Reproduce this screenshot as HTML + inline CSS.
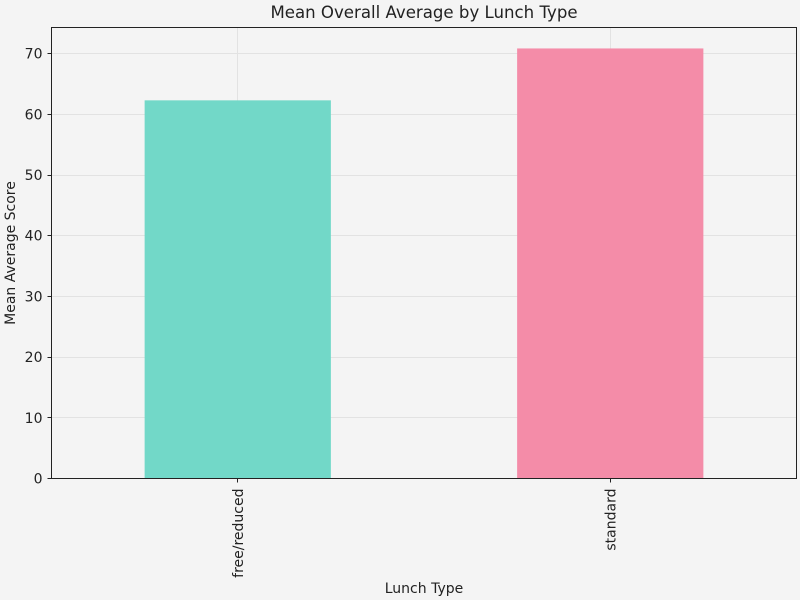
<!DOCTYPE html>
<html><head><meta charset="utf-8"><style>
body{margin:0;background:#f4f4f4;font-family:"DejaVu Sans","Liberation Sans",sans-serif}
</style></head><body>
<svg id="chart" width="800" height="600" xmlns="http://www.w3.org/2000/svg" style="display:block;font-family:'DejaVu Sans','Liberation Sans',sans-serif">
<rect width="800" height="600" fill="#f4f4f4"/>
<g id="plot"></g>
</svg>
<script>
const categories = ["free/reduced", "standard"];
const values = [62.3, 70.85];
const colors = ["#72d8c8", "#f48ca8"];
const yTicks = [0, 10, 20, 30, 40, 50, 60, 70];

const L = 51.5, R = 796.5, T = 27.5, B = 478.5;
const yMax = 74.3;
const y = v => B - v / yMax * (B - T);
const unit = (R - L) / categories.length;
const x = i => L + unit * (i + 0.5);
const NS = "http://www.w3.org/2000/svg";
const g = document.getElementById("plot");
function mk(tag, attrs, parent) {
  const e = document.createElementNS(NS, tag);
  for (const k in attrs) e.setAttribute(k, attrs[k]);
  (parent || g).appendChild(e);
  return e;
}
const snap = v => Math.round(v - 0.5) + 0.5;
yTicks.forEach(t => {
  const l = mk("line", {x1: L, x2: R, y1: snap(y(t)), y2: snap(y(t)), stroke: "#e2e2e2", "stroke-width": 1});
  
  
});
categories.forEach((c, i) => {
  const l = mk("line", {x1: snap(x(i)), x2: snap(x(i)), y1: T, y2: B, stroke: "#e2e2e2", "stroke-width": 1});
  
  
});
categories.forEach((c, i) => {
  const w = unit * 0.5;
  const r = mk("rect", {x: x(i) - w / 2, y: y(values[i]), width: w, height: B - y(values[i]), fill: colors[i]});
  
  
});
const fr = mk("rect", {x: L, y: T, width: R - L, height: B - T, fill: "none", stroke: "#222", "stroke-width": 1});


yTicks.forEach(t => {
  const tk = mk("line", {x1: L - 4, x2: L, y1: snap(y(t)), y2: snap(y(t)), stroke: "#222"});
  
  
  const tx = mk("text", {x: L - 9, y: y(t) + 5, "text-anchor": "end", "font-size": 14, fill: "#222"});
  tx.textContent = t;
  
  
});
categories.forEach((c, i) => {
  const tk = mk("line", {x1: snap(x(i)), x2: snap(x(i)), y1: B, y2: B + 4, stroke: "#222"});
  
  
  const tx = mk("text", {x: 0, y: 0, "text-anchor": "end", "font-size": 14, fill: "#222",
    transform: `translate(${x(i) + 5},${B + 10}) rotate(-90)`});
  tx.textContent = c;
  
  
});
const t1 = mk("text", {x: 424, y: 18, "text-anchor": "middle", "font-size": 16.6, fill: "#222"});
t1.textContent = "Mean Overall Average by Lunch Type";


const t2 = mk("text", {x: 424, y: 593, "text-anchor": "middle", "font-size": 14, fill: "#222"});
t2.textContent = "Lunch Type";


const t3 = mk("text", {x: 0, y: 0, "text-anchor": "middle", "font-size": 14, fill: "#222", transform: "translate(15,253) rotate(-90)"});
t3.textContent = "Mean Average Score";


</script>
</body></html>
